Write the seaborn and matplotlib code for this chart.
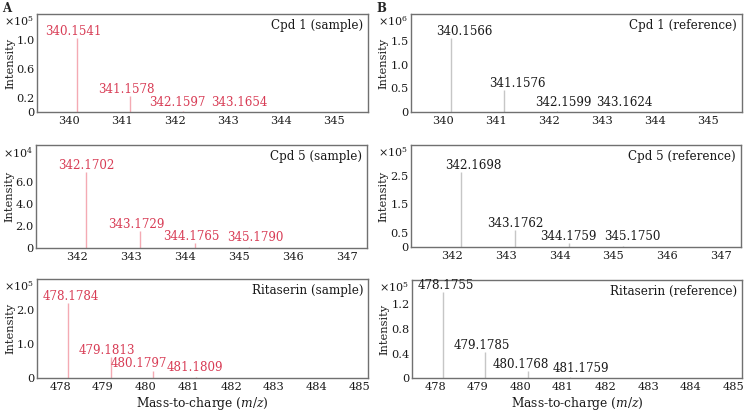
import numpy as np
import pandas as pd
import seaborn as sns
import matplotlib
matplotlib.use("Agg")
import matplotlib.pyplot as plt
from matplotlib.ticker import FuncFormatter

# peak m/z and intensities
mz_a1 = [340.1541, 341.1578, 342.1597, 343.1654]
int_a1 = [1.03e5, 0.225e5, 0.012e5, 0.005e5]
mz_b1 = [340.1566, 341.1576, 342.1599, 343.1624]
int_b1 = [1.56e6, 0.46e6, 0.03e6, 0.01e6]
mz_a2 = [342.1702, 343.1729, 344.1765, 345.1790]
int_a2 = [6.9e4, 1.58e4, 0.45e4, 0.05e4]
mz_b2 = [342.1698, 343.1762, 344.1759, 345.1750]
int_b2 = [2.65e5, 0.60e5, 0.14e5, 0.02e5]
mz_a3 = [478.1784, 479.1813, 480.1797, 481.1809]
int_a3 = [2.20e5, 0.63e5, 0.22e5, 0.03e5]
mz_b3 = [478.1755, 479.1785, 480.1768, 481.1759]
int_b3 = [1.40e5, 0.42e5, 0.12e5, 0.02e5]

titles = ["Cpd 1 (sample)", "Cpd 1 (reference)",
          "Cpd 5 (sample)", "Cpd 5 (reference)",
          "Ritaserin (sample)", "Ritaserin (reference)"]
yticks_list = [[0, 0.2e5, 0.6e5, 1.0e5], [0, 0.5e6, 1.0e6, 1.5e6],
               [0, 2e4, 4e4, 6e4], [0, 0.5e5, 1.5e5, 2.5e5],
               [0, 1e5, 2e5], [0, 0.4e5, 0.8e5, 1.2e5]]
exponents = [5, 6, 4, 5, 5, 5]
xticks_list = [list(range(340, 346)), list(range(340, 346)),
               list(range(342, 348)), list(range(342, 348)),
               list(range(478, 486)), list(range(478, 486))]

sns.set_style("white")
plt.rcParams['font.family'] = ['DejaVu Serif']
plt.rcParams['mathtext.fontset'] = 'dejavuserif'

W, H = 747, 416
fig = plt.figure(figsize=(W / 100, H / 100), dpi=100)

# axes boxes in pixels: left, right, top, bottom
boxes = [(37, 368, 14, 112), (411, 742, 14, 112),
         (36, 367, 145, 248), (411, 741, 145, 247),
         (37, 368, 279, 378), (412, 742, 280, 378)]
xlims = [(339.4, 345.65), (339.4, 345.65), (341.24, 347.37), (341.24, 347.37),
         (477.46, 485.2), (477.46, 485.2)]
ylims = [1.36e5, 2.07e6, 9.4e4, 3.59e5, 2.91e5, 1.6e5]
# horizontal nudges of the peak labels (pixels)
nudges = [[-4, -4, -6, 3], [13, 13, 6, 14],
          [0, -4, -3, 7], [12, 0, -1, 9],
          [3, -4, -14, -1], [3, -3, -7, 10]]

red_line, red_text = '#f4aab3', '#d83c55'
gray_line, dark_text = '#c6c6c6', '#1a1a1a'

datasets = [(mz_a1, int_a1), (mz_b1, int_b1), (mz_a2, int_a2),
            (mz_b2, int_b2), (mz_a3, int_a3), (mz_b3, int_b3)]

for i, ((mz, inten), box) in enumerate(zip(datasets, boxes)):
    l, r, t, b = box
    ax = fig.add_axes([l / W, 1 - b / H, (r - l) / W, (b - t) / H])
    sample = (i % 2 == 0)
    lc = red_line if sample else gray_line
    tc = red_text if sample else dark_text
    df = pd.DataFrame({'mz': mz, 'intensity': inten})
    ax.vlines(df['mz'], 0, df['intensity'], color=lc, lw=1.0)
    ax.set_xlim(*xlims[i])
    ax.set_ylim(0, ylims[i])
    ymax = ylims[i]
    for k, row in df.iterrows():
        yv = max(row['intensity'], 0.035 * ymax)
        ax.annotate(f"{row['mz']:.4f}", (row['mz'], yv),
                    xytext=(nudges[i][k] * 0.72, 2.2), textcoords='offset points',
                    ha='center', va='baseline', color=tc, fontsize=8.6)
    scale = 10 ** exponents[i]
    ax.set_xticks(xticks_list[i])
    ax.set_yticks(yticks_list[i])
    ax.yaxis.set_major_formatter(FuncFormatter(
        lambda v, p, s=scale: '0' if v == 0 else f'{v / s:.1f}'))
    ax.tick_params(axis='x', direction='in', length=3, width=0.8, pad=3,
                   labelsize=8.2, colors='#333333', labelcolor='#1a1a1a')
    ax.tick_params(axis='y', direction='in', length=0, pad=1.5,
                   labelsize=8.2, labelcolor='#1a1a1a')
    for sp in ax.spines.values():
        sp.set_color('#707070')
        sp.set_linewidth(1.0)
    ax.set_ylabel('Intensity', fontsize=8.2, color='#1a1a1a')
    ax.yaxis.set_label_coords(-0.066 if sample else -0.069, 0.5)
    ax.text(-0.008, 1.0, r'×10$^{%d}$' % exponents[i], transform=ax.transAxes,
            ha='right', va='top', fontsize=8, color='#1a1a1a')
    ax.text(0.985, 0.95, titles[i], transform=ax.transAxes, ha='right', va='top',
            fontsize=8.6, color='#1a1a1a')
    if i >= 4:
        ax.set_xlabel('Mass-to-charge ($m/z$)', fontsize=8.8, color='#1a1a1a', labelpad=2)

fig.text(2 / W, 1 - 2 / H, 'A', ha='left', va='top', fontsize=8.5, fontweight='bold')
fig.text(376 / W, 1 - 2 / H, 'B', ha='left', va='top', fontsize=8.5, fontweight='bold')

fig.savefig('out.png', dpi=100)
